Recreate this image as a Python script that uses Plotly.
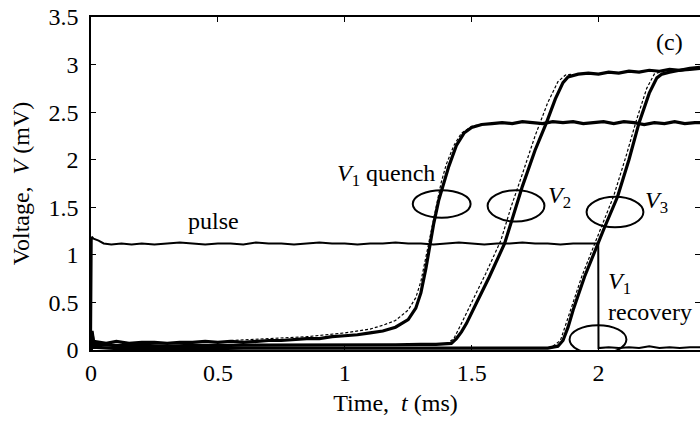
import plotly.graph_objects as go

# ---- measured traces: time (ms) and voltage (mV) ----
pulse_t = [0.0, 0.003, 0.01, 0.03, 0.05, 0.08, 0.12, 0.16, 0.2, 0.25, 0.3, 0.35, 0.4, 0.45,
           0.5, 0.55, 0.6, 0.65, 0.7, 0.75, 0.8, 0.85, 0.9, 0.95, 1.0, 1.05, 1.1, 1.15, 1.2,
           1.25, 1.3, 1.35, 1.4, 1.45, 1.5, 1.55, 1.6, 1.65, 1.7, 1.75, 1.8, 1.85, 1.9, 1.95,
           1.999, 2.0, 2.04, 2.08, 2.12, 2.16, 2.2, 2.24, 2.28, 2.32, 2.36, 2.4]
pulse_v = [0.0, 1.19, 1.17, 1.15, 1.12, 1.11, 1.12, 1.11, 1.12, 1.11, 1.12, 1.13, 1.12, 1.11,
           1.12, 1.12, 1.11, 1.13, 1.12, 1.12, 1.11, 1.12, 1.13, 1.12, 1.12, 1.11, 1.12, 1.12,
           1.13, 1.12, 1.12, 1.11, 1.12, 1.13, 1.12, 1.11, 1.12, 1.12, 1.13, 1.12, 1.12, 1.11,
           1.12, 1.12, 1.12, 0.02, 0.03, 0.02, 0.03, 0.02, 0.04, 0.02, 0.03, 0.02, 0.03, 0.03]

v1_t = [0.0, 0.004, 0.01, 0.03, 0.06, 0.1, 0.15, 0.2, 0.25, 0.3, 0.35, 0.4, 0.45, 0.5, 0.55,
        0.6, 0.65, 0.7, 0.75, 0.8, 0.85, 0.9, 0.95, 1.0, 1.05, 1.1, 1.15, 1.2, 1.25, 1.28, 1.3,
        1.32, 1.335, 1.35, 1.37, 1.39, 1.41, 1.44, 1.47, 1.5, 1.54, 1.58, 1.62, 1.66, 1.7, 1.74,
        1.78, 1.82, 1.86, 1.9, 1.94, 1.98, 2.02, 2.06, 2.1, 2.14, 2.18, 2.22, 2.26, 2.3, 2.34,
        2.38, 2.4]
v1_v = [0.0, 0.2, 0.09, 0.08, 0.07, 0.09, 0.07, 0.08, 0.08, 0.07, 0.08, 0.08, 0.09, 0.08, 0.09,
        0.08, 0.09, 0.1, 0.1, 0.11, 0.12, 0.12, 0.14, 0.15, 0.16, 0.18, 0.2, 0.24, 0.32, 0.44, 0.6,
        0.86, 1.1, 1.32, 1.57, 1.76, 1.93, 2.15, 2.28, 2.34, 2.37, 2.38, 2.39, 2.38, 2.4, 2.39,
        2.38, 2.4, 2.39, 2.4, 2.38, 2.39, 2.4, 2.38, 2.4, 2.39, 2.37, 2.39, 2.38, 2.4, 2.38,
        2.39, 2.39]

v2_t = [0.0, 0.004, 0.01, 0.05, 0.1, 0.2, 0.3, 0.4, 0.5, 0.6, 0.7, 0.8, 0.9, 1.0, 1.1, 1.2,
        1.3, 1.36, 1.42, 1.44, 1.46, 1.48, 1.52, 1.57, 1.63, 1.67, 1.7, 1.75, 1.795, 1.83, 1.86,
        1.88, 1.92, 1.96, 2.0, 2.04, 2.08, 2.12, 2.16, 2.2, 2.24, 2.28, 2.32, 2.36, 2.4]
v2_v = [0.0, 0.18, 0.06, 0.05, 0.045, 0.05, 0.04, 0.05, 0.045, 0.05, 0.05, 0.055, 0.05, 0.055,
        0.05, 0.055, 0.06, 0.06, 0.07, 0.12, 0.19, 0.28, 0.5, 0.77, 1.12, 1.45, 1.72, 2.1, 2.39,
        2.64, 2.81, 2.87, 2.9, 2.91, 2.9, 2.92, 2.91, 2.93, 2.92, 2.94, 2.93, 2.95, 2.94, 2.96,
        2.97]

v3_t = [0.0, 0.004, 0.01, 0.05, 0.1, 0.2, 0.3, 0.4, 0.5, 0.6, 0.7, 0.8, 0.9, 1.0, 1.1, 1.2,
        1.3, 1.4, 1.5, 1.6, 1.7, 1.8, 1.84, 1.86, 1.88, 1.9, 1.945, 1.996, 2.024, 2.075, 2.12,
        2.16, 2.2, 2.23, 2.25, 2.28, 2.32, 2.36, 2.4]
v3_v = [0.0, 0.15, 0.03, 0.02, 0.015, 0.02, 0.015, 0.02, 0.015, 0.02, 0.02, 0.015, 0.02, 0.02,
        0.015, 0.02, 0.02, 0.015, 0.02, 0.02, 0.015, 0.02, 0.04, 0.1, 0.24, 0.42, 0.77, 1.12,
        1.29, 1.61, 2.0, 2.39, 2.7, 2.86, 2.9, 2.92, 2.94, 2.95, 2.96]

# ---- simulated quench voltages (dashed) ----
m1_t = [0.55, 0.7, 0.85, 1.0, 1.1, 1.15, 1.2, 1.25, 1.28, 1.3, 1.32, 1.34, 1.36, 1.38, 1.40,
        1.43, 1.46, 1.5, 1.55]
m1_v = [0.1, 0.12, 0.14, 0.18, 0.22, 0.26, 0.31, 0.42, 0.55, 0.72, 0.98, 1.25, 1.52, 1.76,
        1.95, 2.15, 2.28, 2.35, 2.38]
m2_t = [1.40, 1.43, 1.46, 1.50, 1.555, 1.615, 1.655, 1.70, 1.75, 1.80, 1.84, 1.87, 1.9]
m2_v = [0.06, 0.12, 0.28, 0.5, 0.8, 1.15, 1.5, 1.85, 2.25, 2.6, 2.82, 2.89, 2.9]
m3_t = [1.82, 1.85, 1.875, 1.89, 1.935, 1.99, 2.06, 2.11, 2.15, 2.19, 2.22, 2.25]
m3_v = [0.04, 0.1, 0.3, 0.42, 0.78, 1.15, 1.62, 2.05, 2.42, 2.75, 2.9, 2.93]

# ---- ellipses marking events: (t0, t1, v0, v1) ----
marker_t0 = [1.268, 1.563, 1.953, 1.886]
marker_t1 = [1.496, 1.787, 2.177, 2.110]
marker_v0 = [1.39, 1.35, 1.29, -0.04]
marker_v1 = [1.68, 1.68, 1.61, 0.26]

FONT = "Liberation Serif"
INK = "black"
FS = 24

fig = go.Figure()

for t, v in [(v1_t, v1_v), (v2_t, v2_v), (v3_t, v3_v)]:
    fig.add_trace(go.Scatter(x=t, y=v, mode="lines", line=dict(color=INK, width=3.2),
                             showlegend=False, hoverinfo="skip"))
fig.add_trace(go.Scatter(x=pulse_t, y=pulse_v, mode="lines", line=dict(color=INK, width=2),
                         showlegend=False, hoverinfo="skip"))
for t, v in [(m1_t, m1_v), (m2_t, m2_v), (m3_t, m3_v)]:
    fig.add_trace(go.Scatter(x=t, y=v, mode="lines",
                             line=dict(color=INK, width=1.2, dash="3px,2px"),
                             showlegend=False, hoverinfo="skip"))
# single hidden point so the right-hand tick axis is drawn
fig.add_trace(go.Scatter(x=[0], y=[0], yaxis="y2", mode="lines", showlegend=False,
                         hoverinfo="skip", line=dict(color="rgba(0,0,0,0)")))

for a, b, c, d in zip(marker_t0, marker_t1, marker_v0, marker_v1):
    fig.add_shape(type="circle", xref="x", yref="y", x0=a, x1=b, y0=c, y1=d,
                  line=dict(color=INK, width=2))

labels = [
    ("(c)", 2.28, 3.24, "center"),
    ("<i>V</i><sub>1</sub> quench", 1.161, 1.84, "center"),
    ("<i>V</i><sub>2</sub>", 1.846, 1.61, "center"),
    ("<i>V</i><sub>3</sub>", 2.228, 1.556, "center"),
    ("pulse", 0.484, 1.356, "center"),
    ("<i>V</i><sub>1</sub>", 2.031, 0.70, "left"),
    ("recovery", 2.031, 0.40, "left"),
]
for text, x, y, xa in labels:
    fig.add_annotation(x=x, y=y, text=text, showarrow=False, xanchor=xa, yanchor="middle",
                       font=dict(family=FONT, size=FS, color=INK))

axis_common = dict(showgrid=False, zeroline=False, ticks="inside", ticklen=5, tickwidth=1.2,
                   tickcolor=INK, linecolor=INK, linewidth=1.5,
                   tickfont=dict(family=FONT, size=FS, color=INK))

fig.update_layout(
    width=700, height=425,
    margin=dict(l=91, r=0, t=17, b=75),
    paper_bgcolor="white", plot_bgcolor="white",
    font=dict(family=FONT, size=FS, color=INK),
    xaxis=dict(range=[0, 2.4], dtick=0.5, tick0=0, showline=True, mirror="ticks",
               ticklabelstandoff=0,
               title=dict(text="Time,  <i>t</i> (ms)", standoff=10,
                          font=dict(family=FONT, size=FS, color=INK)),
               **axis_common),
    yaxis=dict(range=[0, 3.5], dtick=0.5, tick0=0, showline=True,
               ticklabelstandoff=6,
               title=dict(text="Voltage,  <i>V</i> (mV)", standoff=12,
                          font=dict(family=FONT, size=FS, color=INK)),
               **axis_common),
    yaxis2=dict(overlaying="y", side="right", range=[0, 3.5], dtick=0.5, tick0=0,
                showticklabels=False, showline=False, showgrid=False, zeroline=False,
                ticks="inside", ticklen=5, tickwidth=1.2, tickcolor=INK),
)

fig.write_html("out.html")
